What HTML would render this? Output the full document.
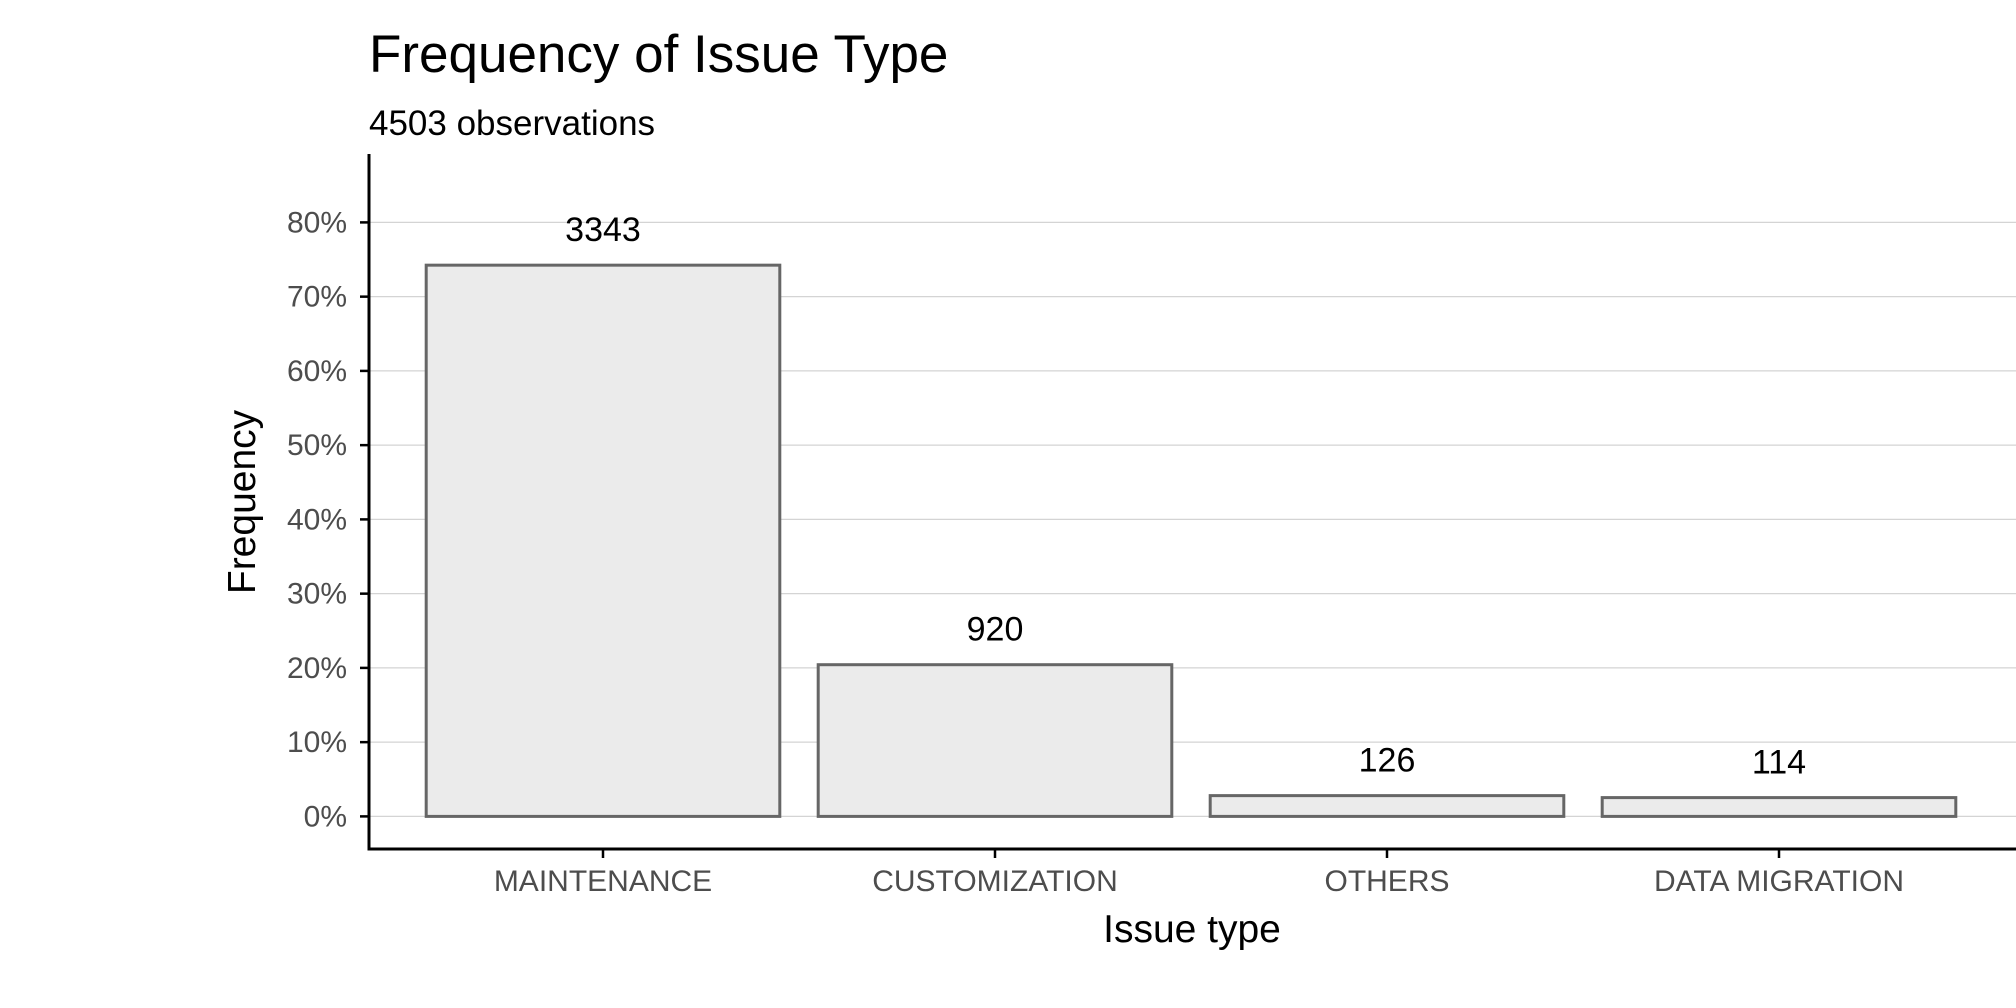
<!DOCTYPE html>
<html><head><meta charset="utf-8"><style>
body{margin:0;background:#fff;}
svg{display:block;font-family:"Liberation Sans",Arial,sans-serif;}
</style></head><body>
<svg id="chart" width="2016" height="1008" viewBox="0 0 2016 1008">
<text x="369" y="72" font-size="53" fill="#000">Frequency of Issue Type</text>
<text x="369" y="135" font-size="35" fill="#000">4503 observations</text>
<g id="grid"></g><g id="bars"></g><g id="axes"></g>
<text x="1192" y="942" font-size="39" text-anchor="middle" fill="#000">Issue type</text>
<text transform="translate(255,502) rotate(-90)" font-size="39" text-anchor="middle" fill="#000">Frequency</text>
</svg>
<script>
const categories=["MAINTENANCE","CUSTOMIZATION","OTHERS","DATA MIGRATION"];
const counts=[3343,920,126,114];
const yTicks=[0,10,20,30,40,50,60,70,80];
const NS="http://www.w3.org/2000/svg";
const total=counts.reduce((a,b)=>a+b,0);
const x0=369,x1=2016,yZero=816.4,pxPer10=74.25,axisY=849;
const step=392,firstCenter=603,barW=353.6;
function yS(p){return yZero-p/10*pxPer10;}
function xS(i){return firstCenter+i*step;}
function mk(tag,attrs,parent){const e=document.createElementNS(NS,tag);for(const k in attrs)e.setAttribute(k,attrs[k]);parent.appendChild(e);return e;}
const grid=document.getElementById('grid'),bars=document.getElementById('bars'),axes=document.getElementById('axes');
yTicks.forEach(t=>{
 const y=yS(t);
 const g=mk('line',{x1:x0,x2:x1,y1:y,y2:y,stroke:'#d4d4d4','stroke-width':1.3},grid);
 
 
 const tk=mk('line',{x1:x0-9,x2:x0,y1:y,y2:y,stroke:'#000','stroke-width':2.5},axes);
 
 
 const lb=mk('text',{x:x0-22,y:y+10,'font-size':30,'text-anchor':'end',fill:'#4d4d4d'},axes);
 lb.textContent=t+'%';
 
 
});
categories.forEach((c,i)=>{
 const p=counts[i]/total*100;
 const cx=xS(i),top=yS(p);
 const r=mk('rect',{x:cx-barW/2,y:top,width:barW,height:yZero-top,fill:'#ebebeb',stroke:'#666','stroke-width':3},bars);
 
 
 const v=mk('text',{x:cx,y:top-24,'font-size':34,'text-anchor':'middle',fill:'#000'},bars);
 v.textContent=counts[i];
 
 
 const tk=mk('line',{x1:cx,x2:cx,y1:axisY,y2:axisY+9,stroke:'#000','stroke-width':2.5},axes);
 
 
 const lb=mk('text',{x:cx,y:891,'font-size':30,'text-anchor':'middle',fill:'#4d4d4d'},axes);
 lb.textContent=c;
 
 
});
const ya=mk('line',{x1:x0,x2:x0,y1:154,y2:axisY+1.5,stroke:'#000','stroke-width':3},axes);


const xa=mk('line',{x1:x0-1.5,x2:x1,y1:axisY,y2:axisY,stroke:'#000','stroke-width':3},axes);


</script>
</body></html>
